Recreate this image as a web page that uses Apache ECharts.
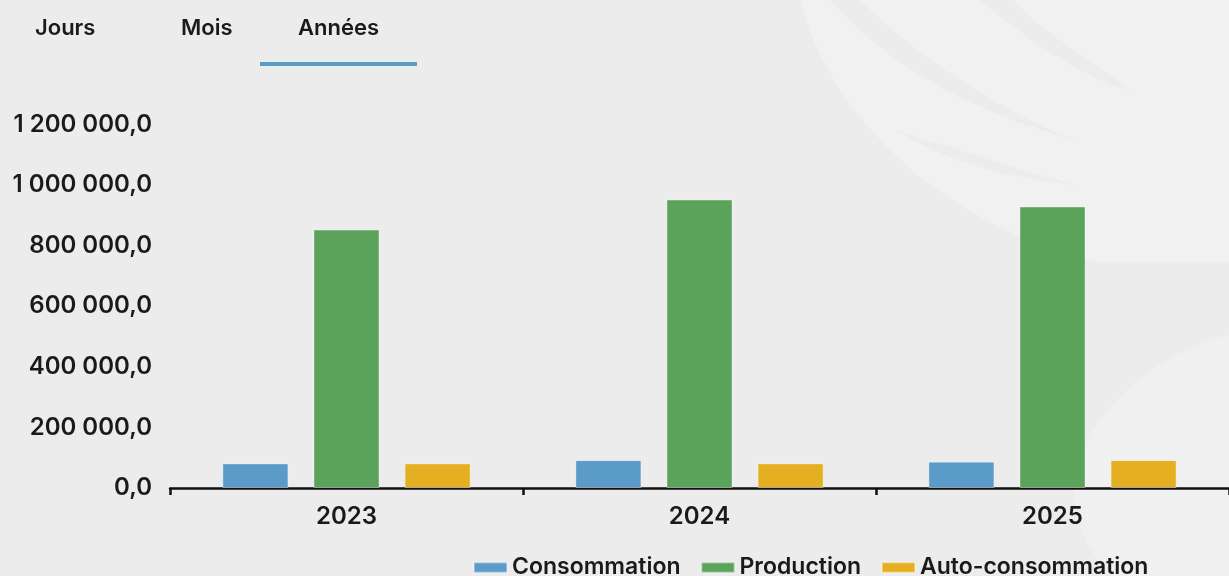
<!DOCTYPE html>
<html>
<head>
<meta charset="utf-8">
<script src="https://cdn.jsdelivr.net/npm/echarts@6/dist/echarts.min.js"></script>
<style>
html,body{margin:0;padding:0;background:#ececec;}
#chart{width:1229px;height:576px;}
</style>
</head>
<body>
<div id="chart"></div>
<script>
const categories = ['2023', '2024', '2025'];
const consommation = [81000, 92000, 87000];
const production = [853000, 952000, 929000];
const autoConsommation = [81000, 81000, 92000];
const seriesNames = ['Consommation', 'Production', 'Auto-consommation'];
const tabs = ['Jours', 'Mois', 'Années'];

function frFormat(v) {
  const parts = Math.abs(v).toFixed(1).split('.');
  const intPart = parts[0].replace(/\B(?=(\d{3})+(?!\d))/g, ' ');
  return (v < 0 ? '-' : '') + intPart + ',' + parts[1];
}

// decorative watermark shape helper: cubic bezier segments -> polygon points
function bez(p0, p1, p2, p3, n) {
  const pts = [];
  for (let i = 0; i <= n; i++) {
    const t = i / n, u = 1 - t;
    pts.push([
      u*u*u*p0[0] + 3*u*u*t*p1[0] + 3*u*t*t*p2[0] + t*t*t*p3[0],
      u*u*u*p0[1] + 3*u*u*t*p1[1] + 3*u*t*t*p2[1] + t*t*t*p3[1]
    ]);
  }
  return pts;
}

const FONT = 'Inter, Roboto, "Noto Sans", sans-serif';
const chart = echarts.init(document.getElementById('chart'));

const shapes = [
  { pts: bez([800,0],[830,120],[950,230],[1100,262],30).concat([[1229,262],[1229,0]]), fill: '#f1f1f1' },
  { pts: bez([830,0],[900,80],[1000,120],[1075,140],20).concat(bez([1075,140],[1000,110],[920,60],[860,0],20)), fill: '#ececec' },
  { pts: bez([980,0],[1040,50],[1090,80],[1130,90],20).concat(bez([1130,90],[1090,60],[1040,30],[1013,0],20)), fill: '#ececec' },
  { pts: bez([895,130],[960,170],[1030,180],[1075,185],20).concat(bez([1075,185],[1020,170],[960,150],[895,130],20)), fill: '#ececec' },
  { pts: bez([1229,335],[1160,350],[1090,410],[1075,470],20).concat(bez([1075,470],[1065,530],[1110,576],[1110,576],10)).concat([[1229,576]]), fill: '#f0f0f0' }
];
const graphics = shapes.map((s, i) => ({
  type: 'polygon', z: -10 + (i > 0 && i < 4 ? 1 : 0), silent: true,
  shape: { points: s.pts }, style: { fill: s.fill }
}));

const tabX = [35, 181, 298];
tabs.forEach((t, i) => {
  graphics.push({
    type: 'text', left: tabX[i], top: 17,
    style: { text: t, font: '600 22px ' + FONT, fill: '#1a1a1a' }
  });
});
graphics.push({
  type: 'rect', shape: { x: 260, y: 62, width: 157, height: 4 },
  style: { fill: '#5b9bc8' }
});

chart.setOption({
  backgroundColor: '#ececec',
  animation: false,
  textStyle: { fontFamily: FONT },
  graphic: graphics,
  grid: { left: 170, width: 1065, top: 124.5, bottom: 88, containLabel: false },
  legend: {
    left: 468, top: 551,
    itemWidth: 33, itemHeight: 10, itemGap: 20,
    icon: 'rect',
    textStyle: { fontSize: 23, fontWeight: 600, color: '#1a1a1a', fontFamily: FONT },
    data: seriesNames
  },
  xAxis: {
    type: 'category',
    data: categories,
    axisLine: { show: true, lineStyle: { color: '#111', width: 2.5 } },
    axisTick: { show: true, length: 7, lineStyle: { color: '#111', width: 2.5 } },
    axisLabel: { fontSize: 24, fontWeight: 600, color: '#1a1a1a', margin: 17, fontFamily: FONT }
  },
  yAxis: {
    type: 'value',
    min: 0, max: 1200000, interval: 200000,
    axisLine: { show: false },
    axisTick: { show: false },
    splitLine: { show: false },
    axisLabel: { fontSize: 24, fontWeight: 600, color: '#1a1a1a', margin: 18, fontFamily: FONT,
      formatter: frFormat }
  },
  series: [
    { name: seriesNames[0], type: 'bar', data: consommation, barWidth: 66, barGap: '38%',
      itemStyle: { color: '#5b9bc9', borderColor: 'rgba(255,255,255,0.35)', borderWidth: 1 } },
    { name: seriesNames[1], type: 'bar', data: production, barWidth: 66, barGap: '38%',
      itemStyle: { color: '#5ba25b', borderColor: 'rgba(255,255,255,0.35)', borderWidth: 1 } },
    { name: seriesNames[2], type: 'bar', data: autoConsommation, barWidth: 66, barGap: '38%',
      itemStyle: { color: '#e4b021', borderColor: 'rgba(255,255,255,0.35)', borderWidth: 1 } }
  ]
});
</script>
</body>
</html>
